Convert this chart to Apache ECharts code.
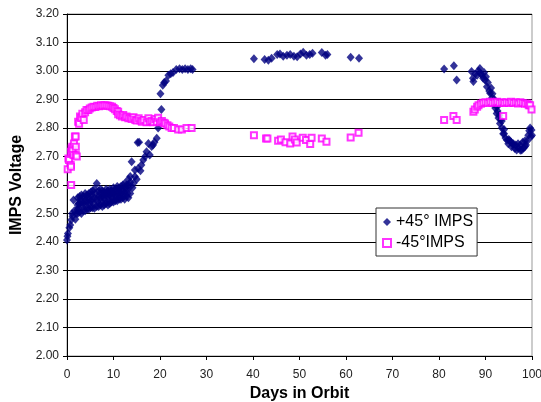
<!DOCTYPE html>
<html>
<head>
<meta charset="utf-8">
<script src="https://cdn.jsdelivr.net/npm/echarts@6/dist/echarts.min.js"></script>
<style>
  html, body { margin: 0; padding: 0; background: #fff; }
  #main { width: 541px; height: 402px; }
</style>
</head>
<body>
<div id="main"></div>
<script>
// +45° IMPS readings (days, volts)
const plusDays = [
  0.0, 0.1, 0.2, 0.5, 0.7, 0.9, 1.1, 1.2, 1.4, 1.6, 1.8, 2.0, 2.2, 2.5,
  2.3, 2.3, 2.3, 2.7, 2.7, 2.7, 3.1, 3.1, 3.1, 3.5, 3.5, 3.5, 3.9, 3.9, 3.9,
  4.3, 4.3, 4.3, 4.7, 4.7, 4.7, 5.1, 5.1, 5.1, 5.5, 5.5, 5.5, 5.9, 5.9, 5.9,
  6.4, 6.4, 6.4, 6.8, 6.8, 6.8, 7.2, 7.2, 7.2, 7.6, 7.6, 7.6, 8.0, 8.0, 8.0,
  8.4, 8.4, 8.4, 8.8, 8.8, 8.8, 9.2, 9.2, 9.2, 9.6, 9.6, 9.6, 10.0, 10.0, 10.0,
  10.4, 10.4, 10.4, 10.8, 10.8, 10.8, 11.2, 11.2, 11.2, 11.6, 11.6, 11.6,
  12.0, 12.0, 12.0, 12.4, 12.4, 12.4, 12.8, 12.8, 12.8, 13.2, 13.2, 13.2,
  13.6, 13.6, 13.6,
  2.5, 2.9, 3.3, 3.7, 4.1, 4.5, 4.9, 5.3, 5.7, 6.1, 6.6, 7.0, 7.4, 7.8,
  8.2, 8.6, 9.0, 9.4, 9.8, 10.2, 10.6, 11.0, 11.4, 11.8, 12.2, 12.6, 13.0, 13.4,
  13.9, 14.1, 14.3, 14.6, 14.6, 15.0, 15.2, 15.5, 15.3, 15.8, 16.0, 16.4,
  16.8, 17.1, 17.5, 17.8, 18.2, 18.5, 18.8, 19.3, 19.6, 19.9, 20.3,
  20.1, 20.6, 20.9, 21.3, 21.8, 22.3, 22.8, 23.5, 24.2, 24.8, 25.4, 26.0, 26.6, 27.0,
  40.2, 42.5, 43.3, 44.0, 45.2, 45.8, 46.5, 47.3, 48.0, 48.8, 49.5, 50.2,
  50.8, 51.5, 52.2, 52.8, 54.8, 55.6, 56.0, 61.0, 62.8,
  81.1, 83.2, 83.8,
  87.0, 87.3, 87.4, 87.8, 88.2, 88.5, 88.8, 89.0, 89.2, 89.5, 89.7, 89.9,
  90.1, 90.3, 90.5, 90.8, 91.0, 91.2, 91.4, 91.5, 91.7, 91.9, 92.0, 92.1,
  92.4, 92.5, 92.6, 92.8, 93.0, 93.1, 93.3, 93.5, 93.5, 93.8, 94.0, 94.0,
  94.3, 94.6, 94.9, 95.0, 95.2, 95.5, 95.6, 95.9, 96.0, 96.3, 96.5, 96.7,
  97.0, 97.1, 97.5, 97.5, 97.8, 98.0, 98.2, 98.5, 98.5, 98.7, 99.0, 99.2,
  99.4, 99.6, 99.8, 99.9, 100.0
];
const plusVolts = [
  2.407, 2.42, 2.43, 2.45, 2.46, 2.477, 2.50, 2.49, 2.547, 2.51, 2.48, 2.50, 2.512, 2.535,
  2.50, 2.53, 2.555, 2.505, 2.535, 2.56, 2.50, 2.54, 2.565, 2.51, 2.535, 2.56, 2.51, 2.545, 2.57,
  2.515, 2.54, 2.565, 2.515, 2.55, 2.57, 2.52, 2.545, 2.575, 2.52, 2.55, 2.58, 2.518, 2.555, 2.585,
  2.525, 2.55, 2.605, 2.525, 2.56, 2.58, 2.53, 2.555, 2.585, 2.525, 2.56, 2.58, 2.53, 2.555, 2.575,
  2.535, 2.565, 2.585, 2.53, 2.56, 2.58, 2.535, 2.565, 2.585, 2.54, 2.56, 2.58, 2.54, 2.57, 2.59,
  2.545, 2.565, 2.585, 2.545, 2.57, 2.595, 2.55, 2.575, 2.59, 2.55, 2.57, 2.595,
  2.555, 2.58, 2.60, 2.55, 2.575, 2.605, 2.56, 2.585, 2.60, 2.555, 2.60, 2.62,
  2.57, 2.61, 2.63,
  2.52, 2.55, 2.525, 2.555, 2.53, 2.56, 2.535, 2.565, 2.535, 2.57, 2.54, 2.57, 2.54, 2.57,
  2.545, 2.575, 2.545, 2.575, 2.55, 2.58, 2.555, 2.585, 2.56, 2.585, 2.565, 2.59, 2.57, 2.59,
  2.682, 2.59, 2.606, 2.63, 2.653, 2.62, 2.749, 2.75, 2.658, 2.65, 2.67, 2.688,
  2.70, 2.717, 2.746, 2.705, 2.735, 2.74, 2.75, 2.764, 2.80, 2.83, 2.865,
  2.92, 2.95, 2.96, 2.965, 2.985, 2.99, 2.995, 3.005, 3.008, 3.005, 3.008, 3.005, 3.008, 3.005,
  3.043, 3.04, 3.038, 3.045, 3.058, 3.06, 3.052, 3.055, 3.058, 3.052, 3.05, 3.06,
  3.066, 3.055, 3.058, 3.062, 3.065, 3.055, 3.058, 3.048, 3.045,
  3.007, 3.018, 2.968,
  2.998, 2.975, 2.963, 2.99, 2.985, 3.00, 3.009, 2.99, 2.986, 2.975, 2.995, 2.968,
  2.98, 2.945, 2.96, 2.93, 2.922, 2.94, 2.905, 2.92, 2.886, 2.90, 2.89, 2.87,
  2.851, 2.875, 2.86, 2.835, 2.845, 2.816, 2.83, 2.80, 2.825, 2.78, 2.795, 2.78,
  2.765, 2.758, 2.745, 2.76, 2.755, 2.75, 2.734, 2.742, 2.745, 2.728, 2.74, 2.723,
  2.745, 2.73, 2.722, 2.74, 2.723, 2.75, 2.73, 2.735, 2.755, 2.74, 2.755, 2.775,
  2.79, 2.80, 2.77, 2.793, 2.775
];

// -45° IMPS readings (days, volts)
const minusDays = [
  0.15, 0.3, 0.43, 0.8, 0.86, 0.9, 0.86, 1.0, 1.14, 1.2, 1.4, 1.5, 1.7, 1.87, 1.9, 1.9, 2.1,
  2.4, 2.6, 2.8, 3.1, 3.3, 3.6, 3.9, 4.2, 4.6, 4.9, 5.3, 5.7, 6.1, 6.5, 6.9, 7.3, 7.7,
  8.1, 8.5, 8.9, 9.3, 9.7, 10.0, 10.3, 10.7, 11.0, 11.0, 11.4, 11.8, 12.1, 12.5, 12.8,
  13.2, 13.6, 13.9, 14.3, 14.7, 15.0, 15.4, 15.8, 16.1, 16.5, 17.1, 17.5, 17.8, 18.2,
  18.6, 19.0, 19.3, 19.6, 20.0, 20.4, 20.8, 21.1, 21.6, 22.0, 22.5, 23.0, 23.9, 24.7,
  25.7, 26.8,
  40.2, 42.8, 43.1, 45.4, 46.0, 47.0, 48.0, 48.5, 49.0, 49.4, 50.7, 51.4, 52.3, 52.6,
  54.8, 55.8, 61.0, 62.7,
  81.1, 83.1, 83.8,
  87.4, 87.7, 88.2, 88.5, 89.0, 89.5, 90.0, 90.5, 91.0, 91.5, 92.0, 92.5, 93.0, 93.5,
  93.8, 94.0, 94.5, 95.0, 95.5, 96.0, 96.5, 97.0, 97.5, 98.0, 98.5, 99.0, 99.3, 99.6, 99.9
];
const minusVolts = [
  2.655, 2.693, 2.688, 2.67, 2.664, 2.60, 2.717, 2.728, 2.734, 2.72, 2.705, 2.746, 2.77, 2.77, 2.734, 2.705, 2.70,
  2.822, 2.815, 2.84, 2.835, 2.85, 2.828, 2.855, 2.863, 2.863, 2.868, 2.872, 2.875, 2.874, 2.878, 2.876, 2.88, 2.878,
  2.88, 2.879, 2.878, 2.876, 2.875, 2.87, 2.866, 2.86, 2.857, 2.848, 2.845, 2.84, 2.846, 2.838, 2.84,
  2.834, 2.836, 2.832, 2.838, 2.828, 2.826, 2.834, 2.826, 2.822, 2.828, 2.82, 2.834, 2.822, 2.825,
  2.82, 2.832, 2.822, 2.836, 2.82, 2.825, 2.818, 2.816, 2.81, 2.805, 2.80, 2.80, 2.795, 2.795,
  2.80, 2.80,
  2.775, 2.763, 2.763, 2.755, 2.76, 2.75, 2.746, 2.77, 2.76, 2.749, 2.766, 2.758, 2.744, 2.766,
  2.763, 2.752, 2.767, 2.783,
  2.828, 2.842, 2.828,
  2.857, 2.865, 2.875, 2.88, 2.885, 2.889, 2.89, 2.888, 2.892, 2.888, 2.89, 2.892, 2.888, 2.89,
  2.842, 2.888, 2.89, 2.888, 2.892, 2.888, 2.89, 2.886, 2.89, 2.888, 2.885, 2.886, 2.88, 2.88, 2.865
];

const yTicks = { min: 2.0, max: 3.2, step: 0.1 };
const xTicks = { min: 0, max: 100, step: 10 };

function zip(xs, ys) {
  return xs.map(function (x, i) { return [x, ys[i]]; });
}

const myChart = echarts.init(document.getElementById('main'), null, { renderer: 'canvas' });

const font = 'Liberation Sans, Arial, sans-serif';

const option = {
  backgroundColor: '#fff',
  animation: false,
  textStyle: { fontFamily: font },
  grid: {
    left: 67,
    right: 9,
    top: 14,
    bottom: 46,
    containLabel: false,
    outerBoundsMode: 'none',
    show: true,
    borderColor: '#999',
    borderWidth: 1,
    backgroundColor: '#fff'
  },
  legend: {
    left: 376,
    top: 208,
    orient: 'vertical',
    backgroundColor: '#fff',
    borderColor: '#333',
    borderWidth: 1,
    borderRadius: 0,
    padding: [6, 4, 5, 6],
    itemGap: 5,
    itemWidth: 8,
    itemHeight: 8,
    textStyle: { fontSize: 16, color: '#000', fontFamily: font },
    data: ['+45° IMPS', '-45°IMPS']
  },
  xAxis: {
    type: 'value',
    min: xTicks.min,
    max: xTicks.max,
    interval: xTicks.step,
    name: 'Days in Orbit',
    nameLocation: 'middle',
    nameGap: 29,
    nameTextStyle: { fontSize: 16, fontWeight: 'bold', color: '#000', fontFamily: font },
    axisLine: { show: true, lineStyle: { color: '#000', width: 1 } },
    axisTick: { show: true, length: 4, lineStyle: { color: '#000' } },
    axisLabel: { color: '#222', fontSize: 12, margin: 13 },
    splitLine: { show: false }
  },
  yAxis: {
    type: 'value',
    min: yTicks.min,
    max: yTicks.max,
    interval: yTicks.step,
    name: 'IMPS Voltage',
    nameLocation: 'middle',
    nameGap: 40,
    nameTextStyle: { fontSize: 16, fontWeight: 'bold', color: '#000', fontFamily: font },
    axisLine: { show: true, lineStyle: { color: '#000', width: 1 } },
    axisTick: { show: true, length: 4, lineStyle: { color: '#000' } },
    axisLabel: {
      color: '#222',
      fontSize: 12,
      margin: 8,
      formatter: function (v) { return v.toFixed(2); }
    },
    splitLine: { show: true, lineStyle: { color: '#000', width: 1 } }
  },
  series: [
    {
      name: '+45° IMPS',
      type: 'scatter',
      symbol: 'diamond',
      symbolSize: [8, 9],
      itemStyle: { color: '#000080' },
      data: zip(plusDays, plusVolts)
    },
    {
      name: '-45°IMPS',
      type: 'scatter',
      symbol: 'emptyRect',
      symbolSize: 6,
      itemStyle: { color: '#ff00ff', borderColor: '#ff00ff', borderWidth: 1 },
      data: zip(minusDays, minusVolts)
    }
  ]
};

myChart.setOption(option);
</script>
</body>
</html>
